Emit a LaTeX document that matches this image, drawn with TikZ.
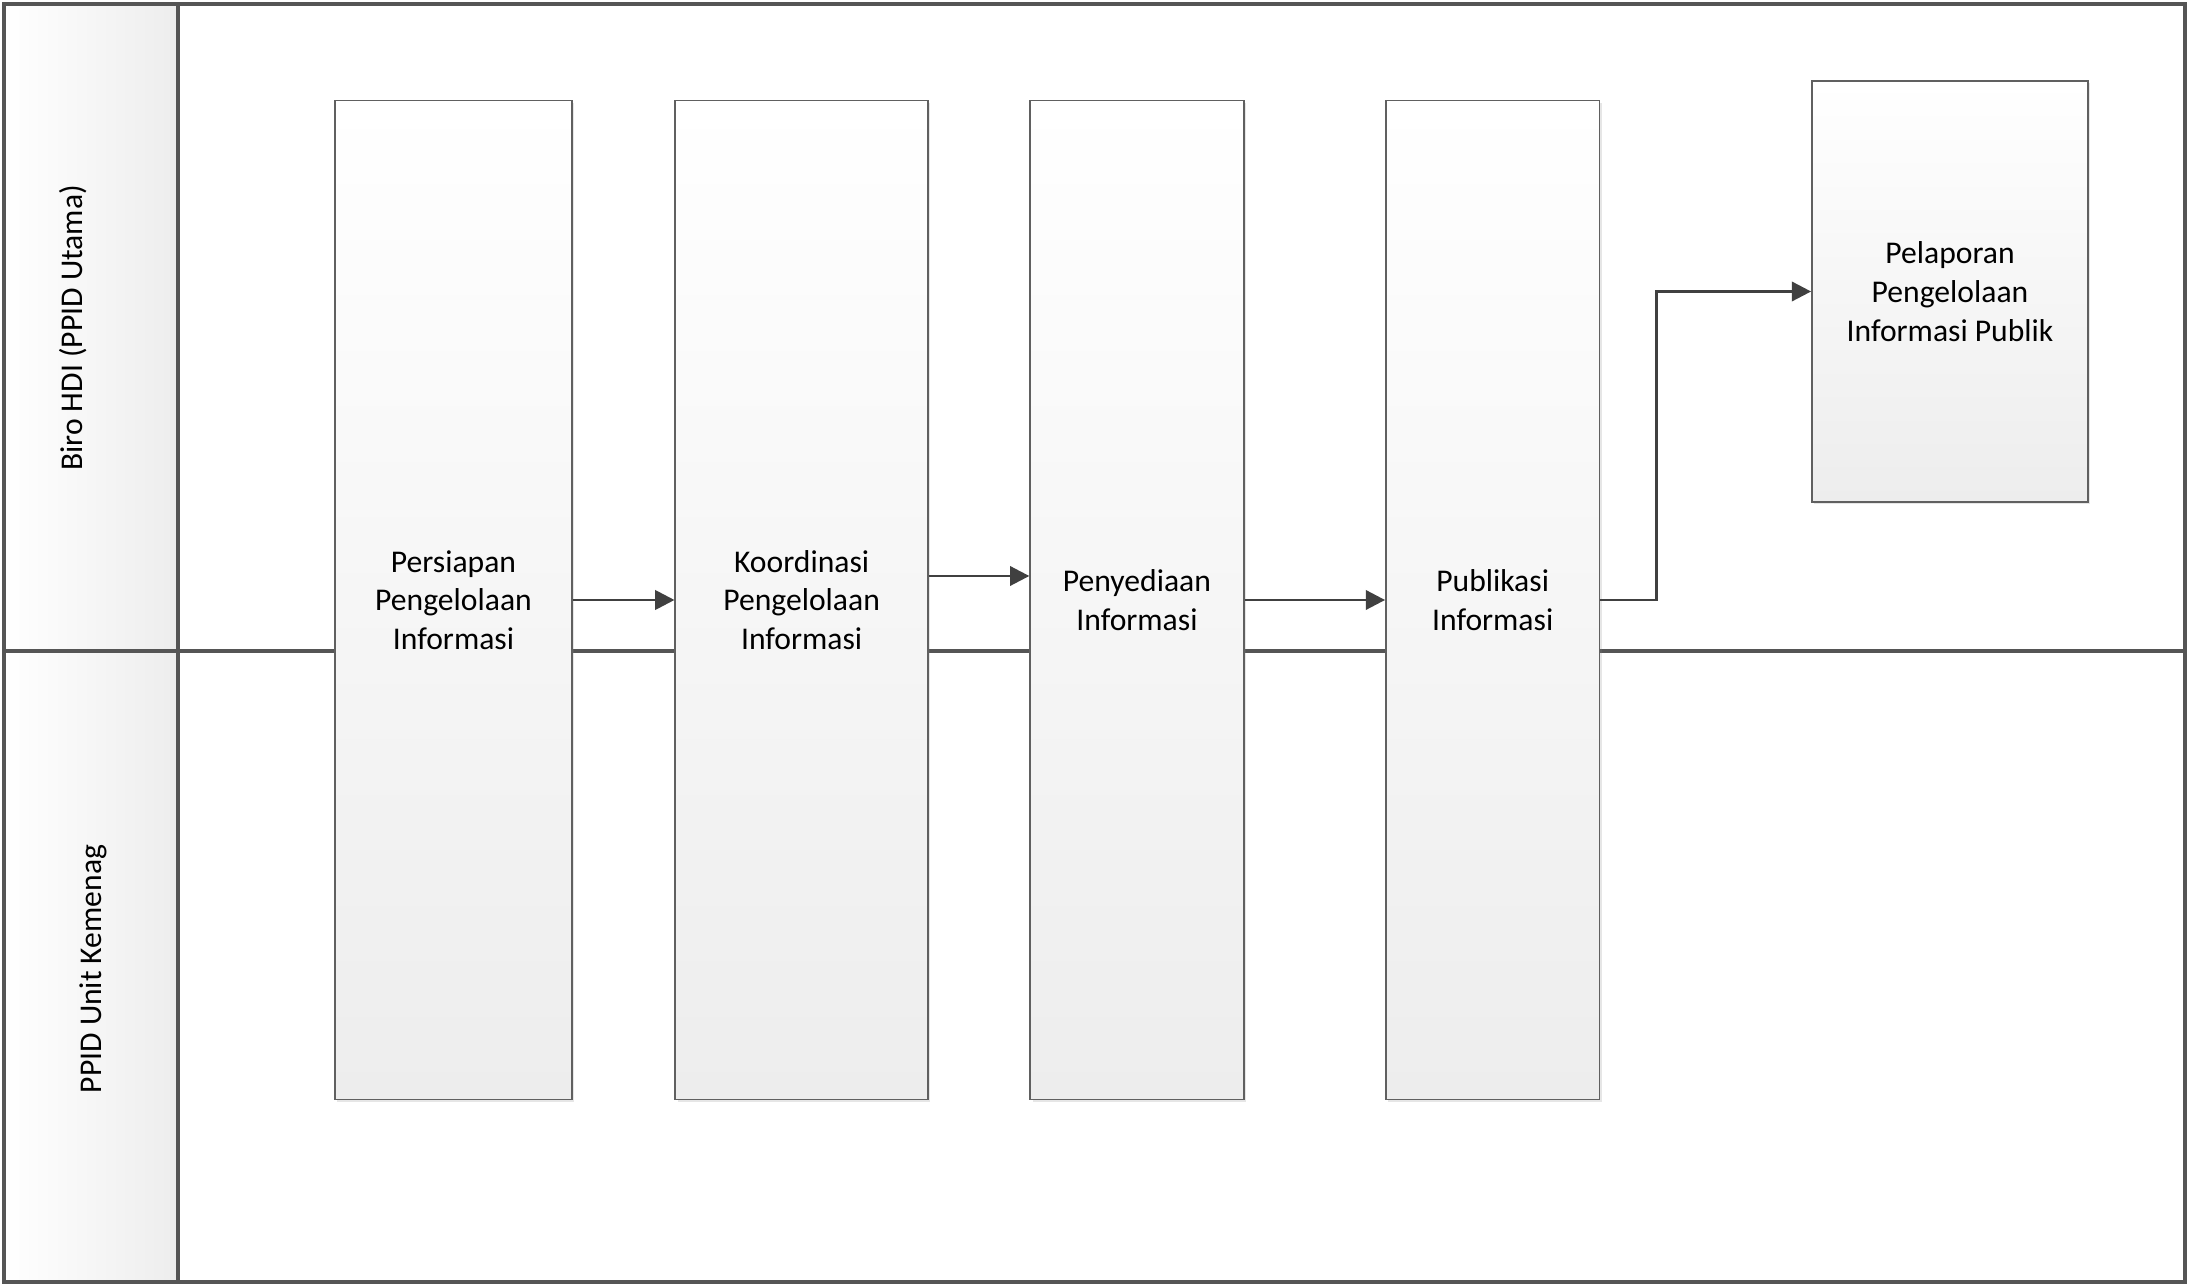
\documentclass[tikz,border=0pt]{standalone}
\usepackage{fontspec}
\setmainfont{Carlito}
\usepackage{tikz}
\usetikzlibrary{arrows.meta,positioning,shadows}
\definecolor{lane}{HTML}{555555}
\definecolor{edge}{HTML}{606060}
\definecolor{flowline}{HTML}{404040}
\definecolor{shade}{HTML}{EDEDED}

\begin{document}
\begin{tikzpicture}[>={Triangle[length=5.5pt,width=5.5pt]},
    every node/.style={font=\fontsize{9}{11}\selectfont},
    step box/.style={draw=edge,line width=0.5pt,top color=white,bottom color=shade,
      align=center,inner sep=0pt,drop shadow={shadow xshift=0.7pt,shadow yshift=-0.7pt,opacity=0.2}},
    flow/.style={->,line width=0.8pt,draw=flowline},
    lanes/.style={draw=lane,line width=0.9pt}]
  \useasboundingbox (0,0) rectangle (21.87,12.84);
  % swimlanes
  \shade[left color=white,right color=shade] (0.04,0.02) rectangle (1.78,12.80);
  \draw[lanes] (0.04,0.02) rectangle (21.85,12.80);
  \draw[lanes] (1.78,0.02) -- (1.78,12.80);
  \draw[lanes] (0.04,6.33) -- (21.85,6.33);
  \node[rotate=90] (hdi) at (0.73,9.56) {Biro HDI (PPID Utama)};
  \node[rotate=90] (unit) at (0.93,3.15) {PPID Unit Kemenag};
  % steps
  \node[step box,minimum width=2.37cm,minimum height=9.99cm] (p1) at (4.535,6.84) {Persiapan\\Pengelolaan\\Informasi};
  \node[step box,minimum width=2.525cm,minimum height=9.99cm,right=1.016cm of p1] (p2) {Koordinasi\\Pengelolaan\\Informasi};
  \node[step box,minimum width=2.134cm,minimum height=9.99cm,right=1.006cm of p2] (p3) {Penyediaan\\Informasi};
  \node[step box,minimum width=2.134cm,minimum height=9.99cm,right=1.406cm of p3] (p4) {Publikasi\\Informasi};
  \node[step box,minimum width=2.76cm,minimum height=4.21cm] (p5) at (19.50,9.925) {Pelaporan\\Pengelolaan\\Informasi Publik};
  % connectors
  \draw[flow] (p1) -- (p2);
  \draw[flow] ([yshift=2.4mm]p2.east) -- ([yshift=2.4mm]p3.west);
  \draw[flow] (p3) -- (p4);
  \draw[flow] (p4.east) -- ++(0.56,0) |- (p5.west);
\end{tikzpicture}
\end{document}
